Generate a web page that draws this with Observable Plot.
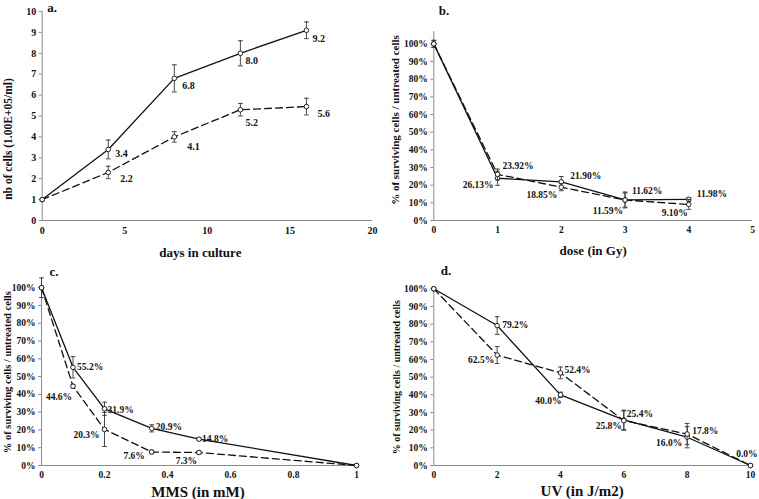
<!DOCTYPE html>
<html><head><meta charset="utf-8">
<script src="https://cdn.jsdelivr.net/npm/d3@7"></script>
<script src="https://cdn.jsdelivr.net/npm/@observablehq/plot@0.6"></script>
<style>
html,body{margin:0;padding:0;background:#fff;}
#wrap{position:relative;width:759px;height:499px;overflow:hidden;}
#wrap svg{position:absolute;overflow:visible;}
</style></head>
<body><div id="wrap"></div>
<script>
// ---------- DATA ----------
// Panel a: cell growth
const aDays = [0, 4, 8, 12, 16];
const aSolid = [1.0, 3.4, 6.8, 8.0, 9.1];
const aSolidErr = [0, 0.45, 0.65, 0.6, 0.4];
const aSolidLabels = ["", "3.4", "6.8", "8.0", "9.2"];
const aDashed = [1.0, 2.3, 4.0, 5.3, 5.45];
const aDashedErr = [0, 0.3, 0.25, 0.3, 0.4];
const aDashedLabels = ["", "2.2", "4.1", "5.2", "5.6"];

// Panel b: irradiation dose (Gy)
const bDose = [0, 1, 2, 3, 4];
const bSolid = [100, 23.92, 21.90, 11.62, 11.98];
const bSolidErr = [2, 4, 3, 4.5, 1];
const bSolidLabels = ["", "23.92%", "21.90%", "11.62%", "11.98%"];
const bDashed = [100, 26.13, 18.85, 11.59, 9.10];
const bDashedErr = [2, 3, 2, 4, 2.8];
const bDashedLabels = ["", "26.13%", "18.85%", "11.59%", "9.10%"];

// Panel c: MMS (mM)
const cMMS = [0, 0.1, 0.2, 0.35, 0.5, 1];
const cSolid = [100, 55.2, 31.9, 20.9, 14.8, 0];
const cSolidErr = [5.5, 6, 3.7, 2, 0.8, 0];
const cSolidLabels = ["", "55.2%", "31.9%", "20.9%", "14.8%", ""];
const cDashed = [100, 44.6, 20.3, 7.6, 7.3, 0];
const cDashedErr = [0, 1, 9.6, 1, 0.8, 0];
const cDashedLabels = ["", "44.6%", "20.3%", "7.6%", "7.3%", ""];

// Panel d: UV (J/m2)
const dUV = [0, 2, 4, 6, 8, 10];
const dSolid = [100, 79.2, 40.0, 25.8, 16.0, 0.0];
const dSolidErr = [0, 5, 1.5, 5.5, 6, 0];
const dSolidLabels = ["", "79.2%", "40.0%", "25.8%", "16.0%", "0.0%"];
const dDashed = [100, 62.5, 52.4, 25.4, 17.8, 0];
const dDashedErr = [0, 4.8, 3.3, 5.5, 6, 0];
const dDashedLabels = ["", "62.5%", "52.4%", "25.4%", "17.8%", ""];

// Tick values
const aXTicks = [0, 5, 10, 15, 20];
const aYTicks = [0, 1, 2, 3, 4, 5, 6, 7, 8, 9, 10];
const bXTicks = [0, 1, 2, 3, 4, 5];
const cXTicks = [0, 0.2, 0.4, 0.6, 0.8, 1];
const dXTicks = [0, 2, 4, 6, 8, 10];
const pctTicks = [0, 10, 20, 30, 40, 50, 60, 70, 80, 90, 100];

// ---------- LAYOUT ----------
const FONT = "'Liberation Serif', 'Times New Roman', serif";
const INK = "#111";
const AXIS = "#8a8a8a";
const cap = {draw(ctx, size) { const w = Math.sqrt(size / Math.PI); ctx.moveTo(-w, 0); ctx.lineTo(w, 0); }};

function rows(xs, ys, errs, labels) {
  return xs.map((x, i) => ({x, y: ys[i], err: errs[i], label: labels[i]}));
}

function seriesMarks(data, dashed, place, labelSize) {
  const marks = [];
  const eb = data.filter(d => d.err > 0);
  marks.push(Plot.ruleX(eb, {x: "x", y1: d => d.y - d.err, y2: d => d.y + d.err, stroke: "#333", strokeWidth: 0.9}));
  marks.push(Plot.dot(eb, {x: "x", y: d => d.y - d.err, symbol: cap, r: 2.4, stroke: "#333", strokeWidth: 0.9, fill: "none"}));
  marks.push(Plot.dot(eb, {x: "x", y: d => d.y + d.err, symbol: cap, r: 2.4, stroke: "#333", strokeWidth: 0.9, fill: "none"}));
  marks.push(Plot.line(data, {x: "x", y: "y", stroke: INK, strokeWidth: 1.3, strokeDasharray: dashed ? "7,4" : null}));
  marks.push(Plot.dot(data, {x: "x", y: "y", r: 2.3, stroke: INK, strokeWidth: 0.9, fill: "white"}));
  data.forEach((d, i) => {
    if (!d.label) return;
    const p = place[i];
    marks.push(Plot.text([d], {x: "x", y: "y", text: "label", textAnchor: p[0], dx: p[1], dy: p[2],
      fill: INK, fontSize: labelSize, fontWeight: "bold"}));
  });
  return marks;
}

function panel(cfg) {
  const marks = [
    Plot.axisX({ticks: cfg.xTicks, tickFormat: cfg.xFormat, tickSize: 0, tickPadding: 6, fontSize: cfg.tickSize, fill: INK}),
    Plot.axisY({ticks: cfg.yTicks, tickFormat: cfg.yFormat, tickSize: 3, tickPadding: 3, fontSize: cfg.tickSize, stroke: AXIS, fill: INK}),
    Plot.ruleX([cfg.xDomain[0]], {stroke: AXIS, strokeWidth: 1}),
    Plot.ruleY([0], {stroke: AXIS, strokeWidth: 1}),
    ...seriesMarks(cfg.solid, false, cfg.solidPlace, cfg.labelSize),
    ...seriesMarks(cfg.dashed, true, cfg.dashedPlace, cfg.labelSize),
    Plot.text([cfg.xTitle], {frameAnchor: "bottom", textAnchor: "middle", lineAnchor: "middle", dx: cfg.xTitleDx, dy: cfg.xTitleDy, fontSize: cfg.xTitleSize, fontWeight: "bold", fill: INK}),
    Plot.text([cfg.yTitle], {frameAnchor: "left", textAnchor: "middle", lineAnchor: "middle", rotate: -90, dx: cfg.yTitleDx, dy: cfg.yTitleDy, fontSize: cfg.yTitleSize, fontWeight: "bold", fill: INK}),
    Plot.text([cfg.tag], {frameAnchor: "top-left", textAnchor: "start", lineAnchor: "middle", dx: cfg.tagDx, dy: cfg.tagDy, fontSize: 13, fontWeight: "bold", fill: INK})
  ];
  const svg = Plot.plot({
    width: cfg.w, height: cfg.h,
    marginLeft: cfg.ml, marginRight: cfg.mr, marginTop: cfg.mt, marginBottom: cfg.mb,
    style: {fontFamily: FONT, fontWeight: "bold", fontSize: "10px", background: "transparent", color: INK, overflow: "visible"},
    x: {domain: cfg.xDomain, label: null},
    y: {domain: cfg.yDomain, label: null},
    marks
  });
  svg.style.left = cfg.left + "px";
  svg.style.top = cfg.top + "px";
  document.getElementById("wrap").appendChild(svg);
}

const pct = d => d + "%";

panel({
  left: 0, top: 0, w: 380, h: 250, ml: 41.7, mr: 8, mt: 11, mb: 30,
  xDomain: [0, 20], yDomain: [0, 10], xTicks: aXTicks, yTicks: aYTicks, xFormat: d => d, yFormat: d => d,
  tickSize: 10, labelSize: 10,
  solid: rows(aDays, aSolid, aSolidErr, aSolidLabels),
  dashed: rows(aDays, aDashed, aDashedErr, aDashedLabels),
  solidPlace: [null, ["start", 7, 4], ["start", 8, 7], ["start", 5, 7], ["start", 6, 8]],
  dashedPlace: [null, ["start", 12, 6], ["start", 13, 10], ["start", 5, 13], ["start", 11, 7]],
  xTitle: "days in culture", xTitleDx: -7, xTitleDy: 32, xTitleSize: 13,
  yTitle: "nb of cells (1.00E+05/ml)", yTitleDx: -34, yTitleDy: 23, yTitleSize: 11.5,
  tag: "a.", tagDx: 5, tagDy: -4
});

panel({
  left: 380, top: 0, w: 379, h: 250, ml: 53.3, mr: 7, mt: 31, mb: 30,
  xDomain: [0, 5], yDomain: [0, 107], xTicks: bXTicks, yTicks: pctTicks, xFormat: d => d, yFormat: pct,
  tickSize: 9.5, labelSize: 9.5,
  solid: rows(bDose, bSolid, bSolidErr, bSolidLabels),
  dashed: rows(bDose, bDashed, bDashedErr, bDashedLabels),
  solidPlace: [null, ["start", 5, -12], ["start", 9, -6], ["start", 7, -9], ["start", 8, -5]],
  dashedPlace: [null, ["end", -4, 11], ["end", -4, 8], ["end", -2, 11], ["end", -1, 9]],
  xTitle: "dose (in Gy)", xTitleDx: 0, xTitleDy: 30, xTitleSize: 13,
  yTitle: "% of surviving cells / untreated cells", yTitleDx: -38, yTitleDy: -6, yTitleSize: 11,
  tag: "b.", tagDx: 5, tagDy: -21
});

panel({
  left: 0, top: 250, w: 380, h: 249, ml: 41, mr: 24, mt: 28.3, mb: 34,
  xDomain: [0, 1], yDomain: [0, 105], xTicks: cXTicks, yTicks: pctTicks, xFormat: d => d, yFormat: pct,
  tickSize: 9.5, labelSize: 9.5,
  solid: rows(cMMS, cSolid, cSolidErr, cSolidLabels),
  dashed: rows(cMMS, cDashed, cDashedErr, cDashedLabels),
  solidPlace: [null, ["start", 4, 0], ["start", 3, 1], ["start", 4, -1], ["start", 3, 0], null],
  dashedPlace: [null, ["end", -1, 11], ["end", -5, 6], ["end", -7, 4], ["end", -2, 8], null],
  xTitle: "MMS (in mM)", xTitleDx: -1, xTitleDy: 27, xTitleSize: 15,
  yTitle: "% of surviving cells / untreated cells", yTitleDx: -34, yTitleDy: 0, yTitleSize: 10.5,
  tag: "c.", tagDx: 8, tagDy: -7
});

panel({
  left: 380, top: 250, w: 379, h: 249, ml: 53.3, mr: 9, mt: 38.3, mb: 34,
  xDomain: [0, 10], yDomain: [0, 100], xTicks: dXTicks, yTicks: pctTicks, xFormat: d => d, yFormat: pct,
  tickSize: 9.5, labelSize: 9.5,
  solid: rows(dUV, dSolid, dSolidErr, dSolidLabels),
  dashed: rows(dUV, dDashed, dDashedErr, dDashedLabels),
  solidPlace: [null, ["start", 5, -1], ["end", 1, 6], ["end", -2, 6], ["end", -5, 6], ["end", 7, -12]],
  dashedPlace: [null, ["end", -3, 5], ["start", 4, -3], ["start", 3, -7], ["start", 5, -3], null],
  xTitle: "UV (in J/m2)", xTitleDx: -10, xTitleDy: 26, xTitleSize: 15,
  yTitle: "% of surviving cells / untreated cells", yTitleDx: -37, yTitleDy: 0, yTitleSize: 10,
  tag: "d.", tagDx: 7, tagDy: -18
});
</script>
</body></html>
